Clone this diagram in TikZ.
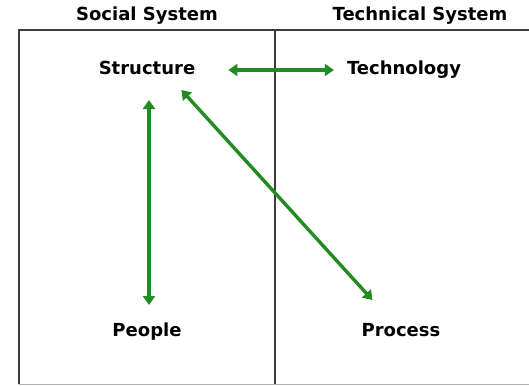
\documentclass[tikz,border=0pt]{standalone}
\usepackage{fontspec}
\setmainfont{DejaVu Sans}
\usetikzlibrary{arrows.meta,calc}
\definecolor{arrowgreen}{RGB}{34,139,34}
\definecolor{framegray}{RGB}{60,60,60}
\tikzset{
  lbl/.style={font=\bfseries\fontsize{18}{20}\selectfont, inner sep=1pt, text=black, anchor=base},
  link/.style={draw=arrowgreen, line width=3.4pt, {Triangle[width=12pt,length=9pt]}-{Triangle[width=12pt,length=9pt]}},
  frame/.style={draw=framegray, line width=1.3pt}
}
\begin{document}
\begin{tikzpicture}[x=1pt,y=-1pt]
\useasboundingbox (0,0) rectangle (529,385);
\fill[white] (0,0) rectangle (529,385);
% frame
\draw[frame] (540,30) -- (19,30) -- (19,384);
\draw[draw=gray!60, line width=1pt] (19,384.5) -- (540,384.5);
\draw[frame] (275,30) -- (275,384);
% headers
\node[lbl] (soc) at (147,20.5) {Social System};
\node[lbl] (tec) at (420,20.5) {Technical System};
% nodes
\node[lbl] (str) at (147,75) {Structure};
\node[lbl] (tech) at (404,75) {Technology};
\node[lbl] (ppl) at (147,336) {People};
\node[lbl] (proc) at (401,336) {Process};
% arrows
\draw[link] ($(str.base east)+(32,-5)$) -- ($(tech.base west)+(-12,-5)$);
\draw[link] ($(str.base)+(2,25)$) -- ($(ppl.base)+(2,-31)$);
\draw[link] ($(str.base east)+(-15,15)$) -- ($(proc.base west)+(12,-36)$);
\end{tikzpicture}
\end{document}
